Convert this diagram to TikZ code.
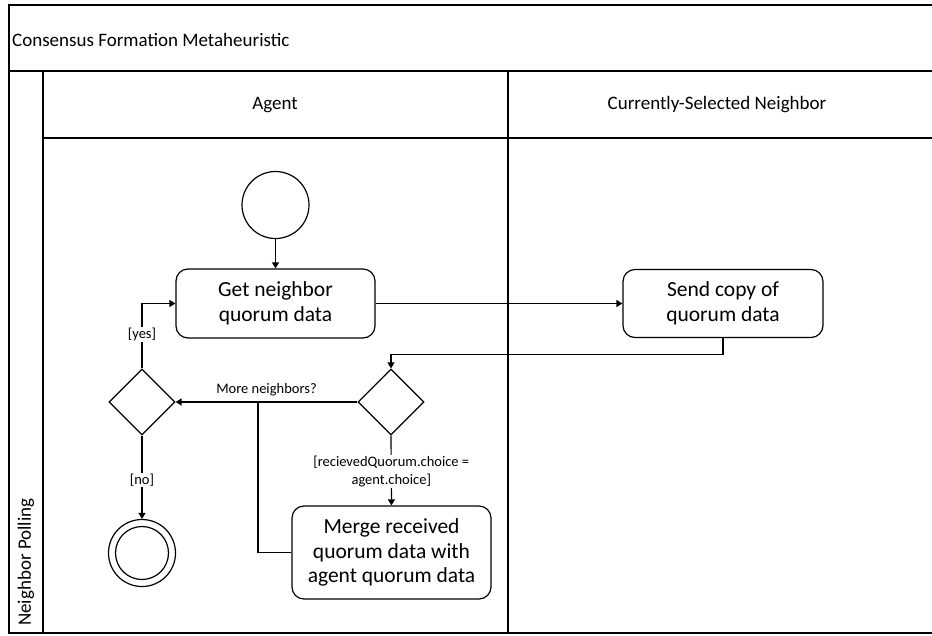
\documentclass[tikz,border=0pt]{standalone}
\usepackage{fontspec}
\setmainfont{Carlito}
\usetikzlibrary{arrows.meta,shapes.geometric,positioning}

\begin{document}
\begin{tikzpicture}[
  x=1pt,y=-1pt,
  line join=miter,
  lane/.style={draw=black,line width=1.7pt},
  heading/.style={font=\fontsize{19}{23}\selectfont,inner sep=0pt},
  action/.style={draw,rounded corners=12pt,line width=1.2pt,align=center,
    font=\fontsize{21.5}{24.5}\selectfont,inner sep=0pt},
  decision/.style={diamond,draw,line width=1.2pt,minimum width=66pt,minimum height=66pt,inner sep=0pt},
  startnode/.style={circle,draw,line width=1.2pt,minimum size=67pt,inner sep=0pt},
  note/.style={font=\fontsize{14.5}{18}\selectfont,fill=white,inner sep=1pt,align=center},
  flow/.style={-{Triangle[length=6pt,width=7pt]},line width=1.2pt}
]
\clip (0,0) rectangle (932,635);

% Swimlane frame
\draw[lane] (9,5) rectangle (945,633);
\draw[lane] (9,71) -- (945,71);
\draw[lane] (43,71) -- (43,633);
\draw[lane] (43,138) -- (945,138);
\draw[lane] (508,71) -- (508,633);
\node[heading,anchor=west] (title) at (12,40) {Consensus Formation Metaheuristic};
\node[heading] (agent) at (275,105) {Agent};
\node[heading] (neighbor) at (717,105) {Currently-Selected Neighbor};
\node[heading,rotate=90,anchor=west] (polling) at (26,626) {Neighbor Polling};

% Activities
\node[startnode] (start) at (275.5,205) {};
\node[action,minimum width=199pt,minimum height=69pt] (get) at (275.5,303.5) {Get neighbor\\quorum data};
\node[action,minimum width=200pt,minimum height=68pt] (send) at (723,303.5) {Send copy of\\quorum data};
\node[decision] (check) at (391,402) {};
\node[decision] (more) at (142,402) {};
\node[action,minimum width=199pt,minimum height=93pt] (merge) at (391.5,552.5) {Merge received\\quorum data with\\agent quorum data};
\node[startnode] (final) at (142,553) {};
\node[circle,draw,line width=1.2pt,minimum size=53pt,inner sep=0pt] (finalin) at (final) {};
\coordinate (join) at (258,402);

% Control flow
\draw[flow] (start) -- (get);
\draw[flow] (get) -- (send);
\draw[flow] (send.south) -- ++(0,16) -| (check.north);
\draw[flow] (check.west) -- (more.east)
  node[note,fill=none,midway,above=4pt] (morelabel) {More neighbors?};
\draw[flow] (more.north) |- node[note,pos=.26] (yes) {[yes]} (get.west);
\draw[flow] (more.south) -- node[note,pos=.53] (no) {[no]} (final.north);
\draw[flow] (check.south) -- node[note,pos=.52] (guard) {[recievedQuorum.choice =\\agent.choice]} (merge.north);
\draw[line width=1.2pt] (merge.west) -| (join);

\end{tikzpicture}
\end{document}
